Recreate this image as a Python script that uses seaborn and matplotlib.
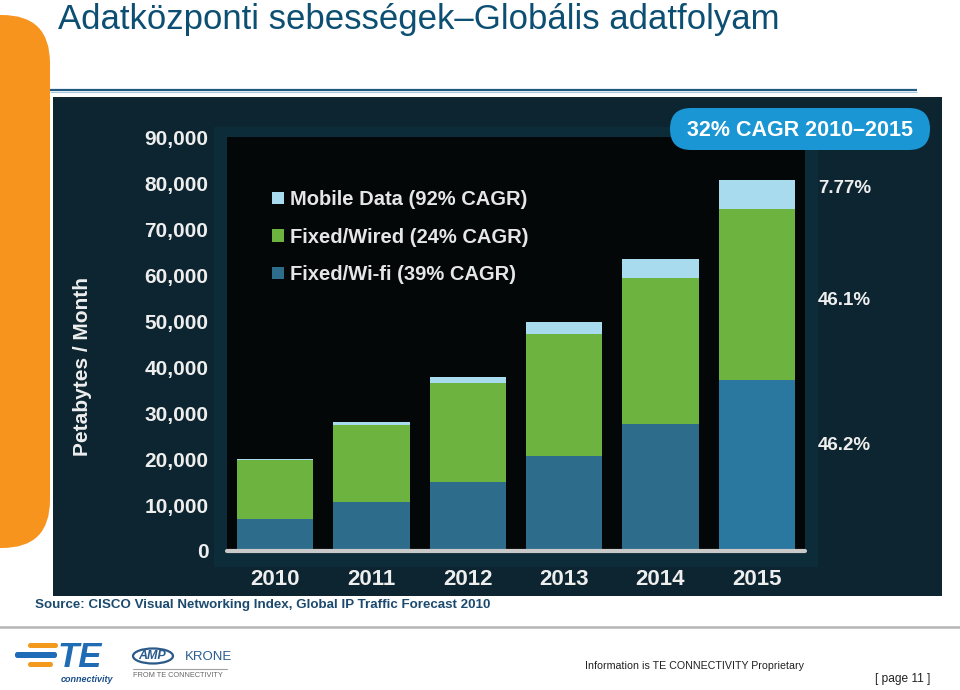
import numpy as np
import pandas as pd
import matplotlib
matplotlib.use("Agg")
import matplotlib.pyplot as plt
from matplotlib.patches import Rectangle, FancyBboxPatch, Ellipse, Patch
import seaborn as sns

# ---------------- data ----------------
years = ["2010", "2011", "2012", "2013", "2014", "2015"]
fixed_wifi = [7000, 10650, 15000, 20650, 27600, 37200]
fixed_wired = [12700, 16750, 21500, 26550, 31750, 37180]
mobile_data = [300, 640, 1300, 2600, 4150, 6270]
series_labels = ["Mobile Data (92% CAGR)", "Fixed/Wired (24% CAGR)", "Fixed/Wi-fi (39% CAGR)"]
share_2015 = ["7.77%", "46.1%", "46.2%"]
share_2015_pos = [78900, 54500, 23000]
y_ticks = [0, 10000, 20000, 30000, 40000, 50000, 60000, 70000, 80000, 90000]
title_text = "Adatközponti sebességek–Globális adatfolyam"
badge_text = "32% CAGR 2010–2015"
source_text = "Source: CISCO Visual Networking Index, Global IP Traffic Forecast 2010"
footer_text = "Information is TE CONNECTIVITY Proprietary"
page_text = "[ page 11 ]"

df = pd.DataFrame({"year": years, "wifi": fixed_wifi, "wired": fixed_wired, "mobile": mobile_data})
df["wired_top"] = df["wifi"] + df["wired"]
df["total"] = df["wired_top"] + df["mobile"]

# ---------------- style ----------------
sns.set_theme(style="white")
plt.rcParams["font.family"] = ["Liberation Sans", "DejaVu Sans"]

c_mobile = "#a9dbee"
c_wired = "#6cb33f"
c_wifi = "#2d6d8b"
wifi_palette = [c_wifi] * 5 + ["#2a77a0"]
c_text = "#eeeeee"

W, H = 960, 690
fig = plt.figure(figsize=(W / 100, H / 100), dpi=100)
fig.patch.set_facecolor("white")

# background decoration axes in pixel coordinates
bg = fig.add_axes([0, 0, 1, 1], zorder=0)
bg.set_xlim(0, W)
bg.set_ylim(H, 0)
bg.axis("off")

# orange side tab
bg.add_patch(FancyBboxPatch((-80, 15), 130, 533,
                            boxstyle="round,pad=0,rounding_size=48",
                            facecolor="#f7941d", edgecolor="none"))
# title
bg.text(58, 29, title_text, fontsize=25, color="#0d4f73", ha="left", va="baseline")
# title rule
bg.plot([50, 917], [89.5, 89.5], color="#1f5a85", lw=1.6, solid_capstyle="butt")
bg.plot([50, 917], [91.5, 91.5], color="#a9c8de", lw=0.8, solid_capstyle="butt")
# chart picture background
bg.add_patch(Rectangle((53, 97), 889, 499, facecolor="#0c2530", edgecolor="none"))
bg.add_patch(Rectangle((214, 127), 604, 440, facecolor="#0d2c39", edgecolor="none"))
# source
bg.text(35, 605, source_text, fontsize=9.6, fontweight="bold", color="#1c4a6e",
        ha="left", va="center")
# footer rule
bg.plot([0, 960], [627, 627], color="#b5b5b5", lw=1.8)
# footer texts
bg.text(585, 666, footer_text, fontsize=7.7, color="#222222", ha="left", va="center")
bg.text(875, 679, page_text, fontsize=8.6, color="#222222", ha="left", va="center")

# TE connectivity logo
for (x0, y0, w, h, c) in [(28, 643, 30, 5, "#f39a1e"), (15, 652, 42, 6, "#1e6bb8"),
                          (28, 662, 25, 5, "#f39a1e")]:
    bg.add_patch(FancyBboxPatch((x0, y0), w, h, boxstyle="round,pad=0,rounding_size=2.5",
                                facecolor=c, edgecolor="none"))
bg.text(58, 667, "TE", fontsize=25, fontweight="bold", fontstyle="italic",
        color="#1f6cb5", ha="left", va="baseline")
bg.text(61, 675, "connectivity", fontsize=6.5, fontweight="bold", fontstyle="italic",
        color="#1b4f8a", ha="left", va="top")
# AMP / KRONE logo
bg.add_patch(Ellipse((153, 656), 40, 15, facecolor="white", edgecolor="#2a5a8a", lw=1.6))
bg.text(152, 656, "AMP", fontsize=9, fontweight="bold", fontstyle="italic",
        color="#2a5a8a", ha="center", va="center")
bg.text(185, 657.5, "KRONE", fontsize=9.5, color="#2d5e90", ha="left", va="center")
bg.plot([133, 227], [669, 669], color="#a0a0a0", lw=0.8)
bg.text(133, 675.5, "FROM TE CONNECTIVITY", fontsize=5.3, color="#666666",
        ha="left", va="center")

# ---------------- chart axes ----------------
left, right, top, bottom = 227, 805, 137, 551
ax = fig.add_axes([left / W, 1 - bottom / H, (right - left) / W, (bottom - top) / H], zorder=1)
ax.set_facecolor("#040708")

bar_w = 0.79
sns.barplot(data=df, x="year", y="total", color=c_mobile, saturation=1, width=bar_w,
            errorbar=None, linewidth=0, ax=ax)
sns.barplot(data=df, x="year", y="wired_top", color=c_wired, saturation=1, width=bar_w,
            errorbar=None, linewidth=0, ax=ax)
sns.barplot(data=df, x="year", y="wifi", hue="year", palette=wifi_palette, saturation=1,
            width=bar_w, errorbar=None, linewidth=0, legend=False, dodge=False, ax=ax)

ax.set_xlim(-0.5, 5.5)
ax.set_ylim(0, 90000)
ax.set_yticks(y_ticks)
ax.set_yticklabels([f"{v:,}" for v in y_ticks])
ax.axhline(0, color="#c9c9c9", lw=3, clip_on=False, zorder=5)

for s in ax.spines.values():
    s.set_visible(False)
ax.tick_params(axis="y", length=0, pad=13.5, labelsize=15, labelcolor=c_text)
ax.tick_params(axis="x", length=0, pad=13, labelsize=16, labelcolor=c_text)
for lab in ax.get_xticklabels() + ax.get_yticklabels():
    lab.set_fontweight("bold")
ax.set_xlabel("")
ax.set_ylabel("Petabytes / Month", fontsize=15, fontweight="bold", color=c_text)
ax.yaxis.label.set_va("center")
ax.yaxis.set_label_coords((82 - left) / (right - left), (bottom - 366) / (bottom - top))

handles = [Patch(facecolor=c, edgecolor="none", label=l)
           for c, l in zip([c_mobile, c_wired, c_wifi], series_labels)]
leg = ax.legend(handles=handles, loc="upper left",
                bbox_to_anchor=((272 - left) / (right - left), (bottom - 190) / (bottom - top)),
                frameon=False, borderaxespad=0, borderpad=0, handlelength=0.6,
                handleheight=0.6, handletextpad=0.3, labelspacing=0.92,
                prop={"size": 14.5, "weight": "bold"})
for t in leg.get_texts():
    t.set_color("#e6e6e6")

# 2015 shares
for txt, yv in zip(share_2015, share_2015_pos):
    ax.text((818 - left) / (right - left), yv, txt, transform=ax.get_yaxis_transform(),
            fontsize=13.5, fontweight="bold", color=c_text, ha="left", va="center",
            clip_on=False)

# ---------------- foreground: badge ----------------
fg = fig.add_axes([0, 0, 1, 1], zorder=2)
fg.set_xlim(0, W)
fg.set_ylim(H, 0)
fg.axis("off")
fg.patch.set_alpha(0)
fg.add_patch(FancyBboxPatch((670, 108), 260, 42, boxstyle="round,pad=0,rounding_size=21",
                            facecolor="#1a96d4", edgecolor="none"))
fg.text(800, 130, badge_text, fontsize=15.5, fontweight="bold", color="white",
        ha="center", va="center")

fig.savefig("out.png", dpi=100, facecolor=fig.get_facecolor())
